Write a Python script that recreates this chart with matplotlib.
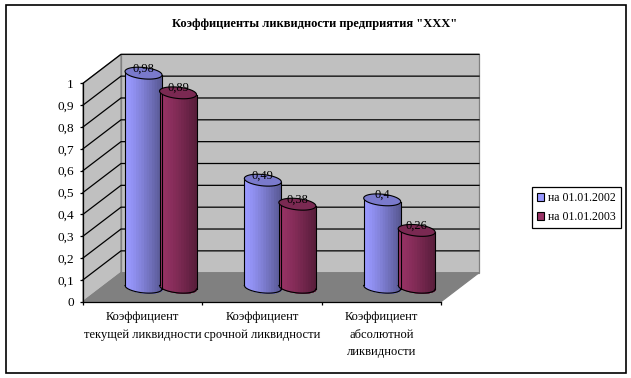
import numpy as np
import matplotlib
matplotlib.use("Agg")
import matplotlib.pyplot as plt
from matplotlib.patches import Patch, Polygon, Rectangle

categories = ["Коэффициент\nтекущей ликвидности", "Коэффициент\nсрочной ликвидности",
              "Коэффициент\nабсолютной\nликвидности"]
series_names = ["на 01.01.2002", "на 01.01.2003"]
values_2002 = [0.98, 0.49, 0.4]
values_2003 = [0.89, 0.38, 0.26]
labels_2002 = ["0,98", "0,49", "0,4"]
labels_2003 = ["0,89", "0,38", "0,26"]
y_ticks = [0, 0.1, 0.2, 0.3, 0.4, 0.5, 0.6, 0.7, 0.8, 0.9, 1]
y_labels = ["0", "0,1", "0,2", "0,3", "0,4", "0,5", "0,6", "0,7", "0,8", "0,9", "1"]

W, H = 631, 378
plt.rcParams["font.family"] = ["Liberation Serif", "DejaVu Serif"]

# depth of the 3d box, in data units
DX = 38 / 119.3
DY = 29 / 218.4
BAR_W = 0.31
ELL_B = 0.026
ELL_K = -0.008


def shade(color, f):
    return tuple(np.array(matplotlib.colors.to_rgb(color)) * f)


def cylinder(ax, x0, val, color, label):
    # mid-depth of the box
    cx = x0 + DX / 2
    base = DY / 2
    a = BAR_W / 2
    t = np.linspace(0, 2 * np.pi, 80)
    ex = a * np.cos(t)
    ey = ELL_B * np.sin(t) + ELL_K * np.cos(t)

    # each band runs to the right edge and the next one paints over it, so no seams
    edges = np.linspace(-a, a, 15)
    for i in range(14):
        f = 1 - 0.42 * (i / 13) ** 1.2
        xs = np.linspace(edges[i], a, 40)
        top = base + val + ELL_K * xs / a
        bot = base + ELL_K * xs / a - ELL_B * np.sqrt(np.clip(1 - (xs / a) ** 2, 0, 1))
        ax.fill_between(cx + xs, bot, top, color=shade(color, f), lw=0, clip_on=False, zorder=4)

    # outline of the side
    xs = np.linspace(-a, a, 60)
    low = base + ELL_K * xs / a - ELL_B * np.sqrt(1 - (xs / a) ** 2)
    ax.plot(cx + xs, low, color="black", lw=0.8, clip_on=False, zorder=5)
    for s in (-a, a):
        ax.plot([cx + s, cx + s], [base + ELL_K * s / a, base + val + ELL_K * s / a],
                color="black", lw=0.8, clip_on=False, zorder=5)
    ax.add_patch(Polygon(np.column_stack([cx + ex, base + val + ey]), closed=True,
                         fc=shade(color, 0.8), ec="black", lw=0.8, clip_on=False, zorder=6))
    ax.text(cx, base + val + 0.022, label, ha="center", va="center", fontsize=9,
            color="black", zorder=7, clip_on=False)


fig = plt.figure(figsize=(W / 100, H / 100), dpi=100)
fig.add_artist(Rectangle((5.5 / W, 1 - 372.7 / H), (625.7 - 5.5) / W, (372.7 - 5.3) / H,
                         transform=fig.transFigure, fill=False, ec="black", lw=1.2))

ax = fig.add_axes([83 / W, 1 - 301.7 / H, 358 / W, 218.4 / H])
ax.set_xlim(0, 3)
ax.set_ylim(0, 1)
ax.patch.set_visible(False)

# walls and floor
ax.add_patch(Polygon([(DX, DY), (3 + DX, DY), (3 + DX, 1 + DY), (DX, 1 + DY)], fc="#C0C0C0",
                     ec="#808080", lw=0.9, clip_on=False, zorder=1))
ax.add_patch(Polygon([(0, 0), (DX, DY), (DX, 1 + DY), (0, 1)], fc="#C0C0C0",
                     ec="#808080", lw=0.9, clip_on=False, zorder=1))
ax.add_patch(Polygon([(0, 0), (3, 0), (3 + DX, DY), (DX, DY)], fc="#808080",
                     ec="#808080", lw=0.9, clip_on=False, zorder=2))
for v in y_ticks[1:]:
    ax.plot([0, DX, 3 + DX], [v, v + DY, v + DY], color="black", lw=0.9, clip_on=False, zorder=3)

for i in range(3):
    cylinder(ax, i + 0.348, values_2002[i], "#9999FF", labels_2002[i])
    cylinder(ax, i + 0.637, values_2003[i], "#993366", labels_2003[i])

for s in ("top", "right"):
    ax.spines[s].set_visible(False)
for s in ("left", "bottom"):
    ax.spines[s].set_linewidth(0.9)
    ax.spines[s].set_zorder(8)

ax.set_yticks(y_ticks)
ax.set_yticklabels(y_labels, fontsize=9.5)
ax.set_xticks([0, 1, 2, 3])
ax.set_xticklabels([])
ax.set_xticks([0.5, 1.5, 2.5], minor=True)
ax.set_xticklabels(categories, minor=True, fontsize=9, linespacing=1.6)
ax.tick_params(axis="x", which="minor", length=0, pad=7)
ax.tick_params(axis="both", which="major", length=2.5, width=0.9, direction="out", pad=4)

fig.text(315 / W, 1 - 24.5 / H, 'Коэффициенты ликвидности предприятия "ХХХ"', ha="center",
         va="center", fontsize=9, fontweight="bold")

handles = [Patch(fc="#9999FF", ec="black", lw=0.8), Patch(fc="#993366", ec="black", lw=0.8)]
leg = fig.legend(handles, series_names, loc="upper left",
                 bbox_to_anchor=(532.3 / W, 1 - 187.3 / H), bbox_transform=fig.transFigure,
                 fontsize=8.5, fancybox=False, framealpha=1, edgecolor="black", borderaxespad=0,
                 handlelength=0.6, handleheight=0.6, handletextpad=0.3, labelspacing=0.6,
                 borderpad=0.42)
leg.get_frame().set_linewidth(0.9)

fig.savefig("out.png", dpi=100)
